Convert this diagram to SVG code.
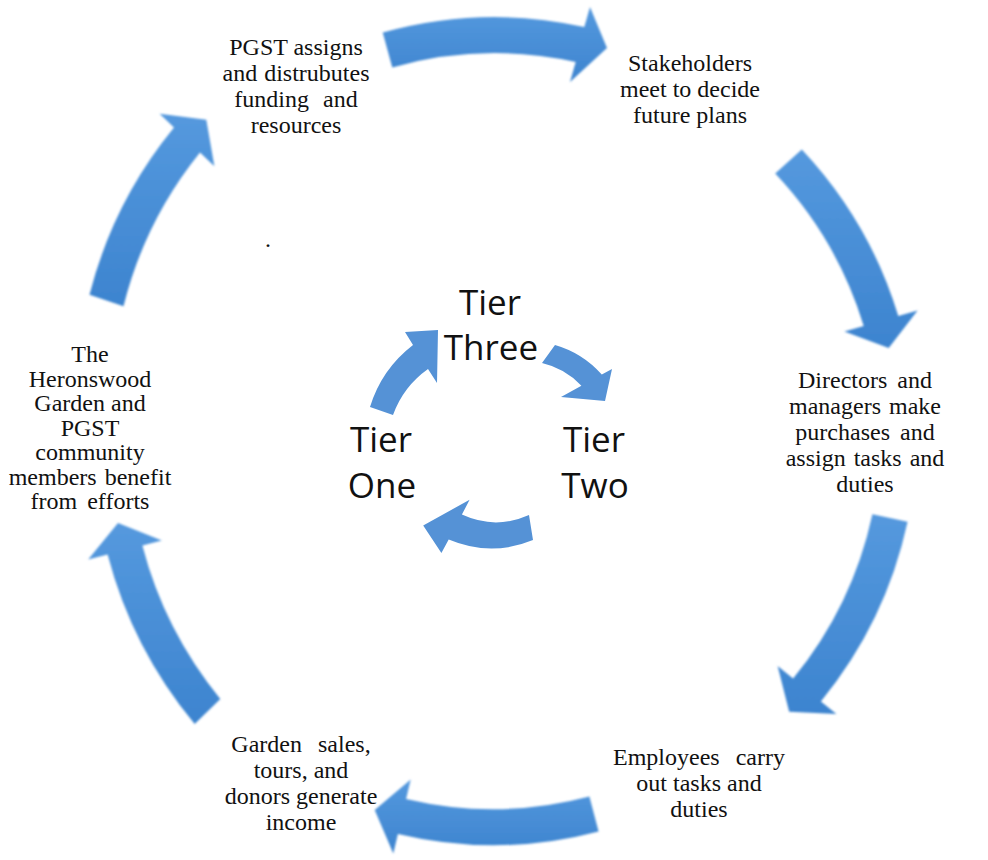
<svg xmlns="http://www.w3.org/2000/svg" width="988" height="860" viewBox="0 0 988 860">
  <defs>
    <linearGradient id="ringFill" x1="0" y1="0" x2="0" y2="1">
      <stop offset="0" stop-color="#5599de"/>
      <stop offset="1" stop-color="#3d84cf"/>
    </linearGradient>
    <filter id="soft" x="-10%" y="-10%" width="120%" height="120%">
      <feGaussianBlur stdDeviation="0.8"/>
    </filter>
  </defs>
  <style>
    .ring { fill: url(#ringFill); filter: url(#soft); }
    .cycle { fill: #5592d6; }
    .label { font-family: "Liberation Serif", "Times New Roman", serif; font-size: 24px; fill: #111111; text-anchor: middle; }
    .tier { font-family: "Open Sans", "Liberation Sans", sans-serif; font-size: 35px; fill: #111111; text-anchor: middle; }
  </style>
  <rect width="988" height="860" fill="#ffffff"/>

  <!-- curved arrows of the outer and inner cycles -->
  <g id="connectors">
    <path class="ring" d="M382.7,32.6 A414,414 0 0 1 584.3,27 L590,7 L607,48 L570,82 L575.7,62 A378,378 0 0 0 392.3,67.4 Z"/>
    <path class="ring" d="M801.8,149.4 A421,421 0 0 1 898.3,316.1 L917.6,310.6 L888.7,348 L844.4,331.4 L863.7,325.9 A385,385 0 0 0 775.2,173.6 Z"/>
    <path class="ring" d="M907.6,521.8 A425,425 0 0 1 820.9,701.4 L836.4,714.1 L789.2,711.7 L777.6,665.9 L793.1,678.6 A389,389 0 0 0 872.4,514.2 Z"/>
    <path class="ring" d="M598.6,831.4 A413,413 0 0 1 397.9,834 L393.3,853.5 L374.7,810.1 L410.7,779.5 L406.1,799 A377,377 0 0 0 589.4,796.6 Z"/>
    <path class="ring" d="M194.7,724.1 A440,440 0 0 1 107.6,554.5 L88.2,559.5 L118,522.9 L161.8,540.5 L142.4,545.5 A402,402 0 0 0 220.3,698.9 Z"/>
    <path class="ring" d="M89.5,294.7 A432,432 0 0 1 174,127.6 L159.6,113.7 L206.3,119.8 L214.4,166.3 L200,152.4 A397,397 0 0 0 123.5,306.3 Z"/>

    <path class="cycle" d="M370,407 Q381.6,369.2 413,345 L405,332 L438,330 L437,383 L428,369 Q403.3,386.5 393,415 Z"/>
    <path class="cycle" d="M555,345 Q582.7,353 601.8,374.6 L612,369 L605,401 L561,397 L581.4,385.8 Q565.2,368.3 542,363 Z"/>
    <path class="cycle" d="M533,540 Q491,557.4 448.7,539.6 L441.4,553 L423.2,525.4 L469.6,499.8 L461.9,514.6 Q495.5,530 529,515 Z"/>
  </g>

  <!-- outer cycle steps -->
  <g id="step-funding">
    <text class="label" x="296" y="55">PGST assigns</text>
    <text class="label" x="296" y="81" word-spacing="1">and distrubutes</text>
    <text class="label" x="296" y="107" word-spacing="8">funding and</text>
    <text class="label" x="296" y="133">resources</text>
  </g>
  <g id="step-stakeholders">
    <text class="label" x="690" y="71">Stakeholders</text>
    <text class="label" x="690" y="97">meet to decide</text>
    <text class="label" x="690" y="123">future plans</text>
  </g>
  <g id="step-directors">
    <text class="label" x="865" y="388" word-spacing="4">Directors and</text>
    <text class="label" x="865" y="414" word-spacing="2">managers make</text>
    <text class="label" x="865" y="440" word-spacing="4">purchases and</text>
    <text class="label" x="865" y="466" word-spacing="2">assign tasks and</text>
    <text class="label" x="865" y="492">duties</text>
  </g>
  <g id="step-employees">
    <text class="label" x="699" y="765" word-spacing="10">Employees carry</text>
    <text class="label" x="699" y="791">out tasks and</text>
    <text class="label" x="699" y="817">duties</text>
  </g>
  <g id="step-income">
    <text class="label" x="301" y="752" word-spacing="10">Garden sales,</text>
    <text class="label" x="301" y="778">tours, and</text>
    <text class="label" x="301" y="804">donors generate</text>
    <text class="label" x="301" y="830">income</text>
  </g>
  <g id="step-community">
    <text class="label" x="90" y="362">The</text>
    <text class="label" x="90" y="386.5">Heronswood</text>
    <text class="label" x="90" y="411">Garden and</text>
    <text class="label" x="90" y="435.5">PGST</text>
    <text class="label" x="90" y="460">community</text>
    <text class="label" x="90" y="484.5" word-spacing="2">members benefit</text>
    <text class="label" x="90" y="509" word-spacing="4">from efforts</text>
  </g>
  <g id="stray-mark">
    <text class="label" x="268" y="247">.</text>
  </g>

  <!-- inner cycle tiers -->
  <g id="tier-three">
    <text class="tier" x="490" y="315">Tier</text>
    <text class="tier" x="491" y="360">Three</text>
  </g>
  <g id="tier-one">
    <text class="tier" x="381" y="452">Tier</text>
    <text class="tier" x="382" y="498">One</text>
  </g>
  <g id="tier-two">
    <text class="tier" x="594" y="452">Tier</text>
    <text class="tier" x="595" y="498">Two</text>
  </g>
</svg>
